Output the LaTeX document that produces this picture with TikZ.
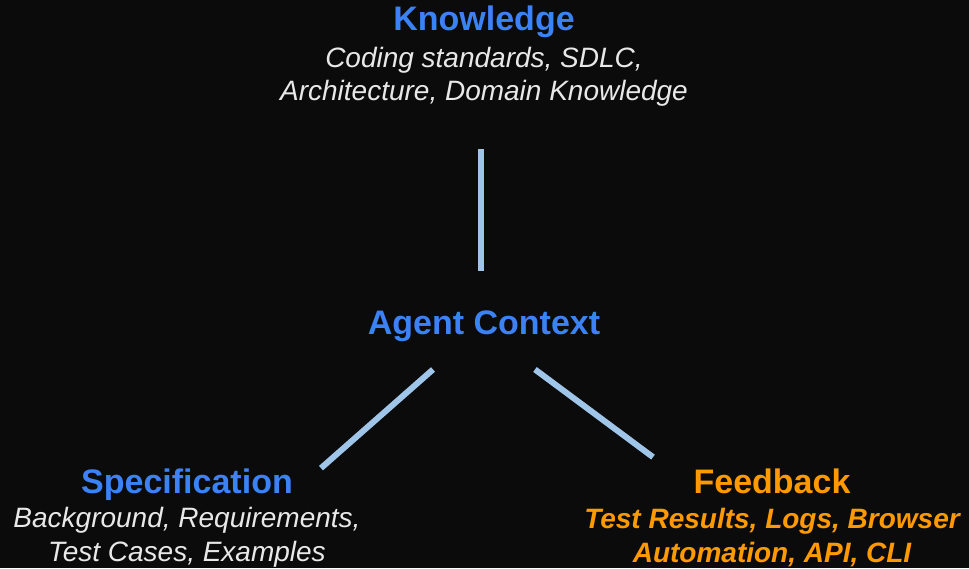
\documentclass[tikz,border=0pt]{standalone}
\usepackage{fontspec}
\setmainfont{Liberation Sans}
\usepackage{xcolor}
\usetikzlibrary{positioning}

\definecolor{bgdark}{HTML}{0B0B0B}
\definecolor{headblue}{HTML}{3B82F6}
\definecolor{fborange}{HTML}{FF9900}
\definecolor{linkblue}{HTML}{9FC5E8}
\definecolor{notegray}{HTML}{E8E8E8}

\begin{document}
\begin{tikzpicture}[x=0.75pt, y=-0.75pt]
\tikzstyle{heading}=[font=\bfseries\fontsize{25.5}{30}\selectfont, text=headblue, inner sep=0pt]
\tikzstyle{notes}=[font=\itshape\fontsize{21}{25.2}\selectfont, text=notegray, align=center, inner sep=0pt]
\tikzstyle{link}=[draw=linkblue, line width=4.5pt]

\useasboundingbox (0,0) rectangle (969,568);
\fill[bgdark] (0,0) rectangle (969,568);

% the three sources around the context
\node[heading, anchor=base] (knowledge) at (484,30) {Knowledge};
\node[notes, below=7pt of knowledge] (knowNotes) {Coding standards, SDLC,\\Architecture, Domain Knowledge};
\node[heading, anchor=base] (agent) at (484,334) {Agent Context};
\node[heading, anchor=base] (spec) at (187,493) {Specification};
\node[notes, below=5pt of spec] (specNotes) {Background, Requirements,\\Test Cases, Examples};
\node[heading, anchor=base, text=fborange] (feedback) at (772,493) {Feedback};
\node[notes, below=11pt of feedback, text=fborange, font=\bfseries\itshape\fontsize{21}{25.2}\selectfont] (fbNotes) {Test Results, Logs, Browser\\Automation, API, CLI};

\draw[link] ([xshift=-2.25pt]knowNotes.south) ++(0,42) -- ([xshift=-2.25pt, yshift=29pt]agent.north);
\draw[link] ([xshift=-38.25pt, yshift=-21pt]agent.south) -- ([xshift=100.5pt]spec.north);
\draw[link] ([xshift=38.25pt, yshift=-21pt]agent.south) -- ([xshift=-89.25pt, yshift=8.25pt]feedback.north);

\end{tikzpicture}
\end{document}
